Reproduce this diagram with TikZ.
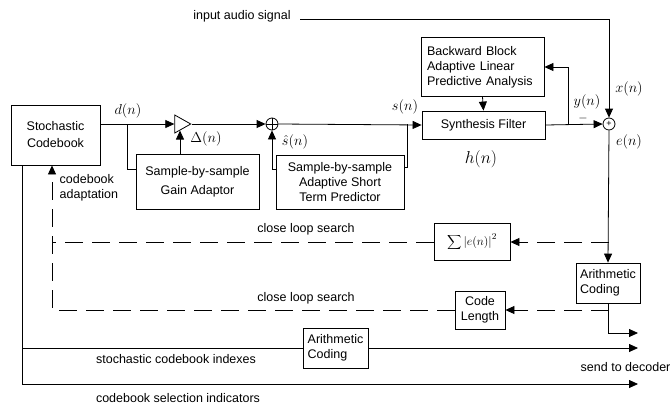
\documentclass[tikz,border=0pt]{standalone}
\usepackage{fontspec}
\setmainfont{Liberation Sans}
\usetikzlibrary{arrows.meta,shapes.geometric}

\begin{document}
\begin{tikzpicture}
[x=1pt,y=-1pt,line width=0.8pt,
font=\fontsize{12.5}{15}\selectfont,
block/.style={draw,inner sep=0pt,align=center},
amp/.style={draw,isosceles triangle,isosceles triangle stretches,
minimum width=18pt,minimum height=16pt,inner sep=0pt},
adder/.style={draw,circle,minimum size=12pt,inner sep=0pt},
arr/.style={-{Triangle[length=9pt,width=8pt]}},
dsh/.style={dash pattern=on 18pt off 9pt},
lbl/.style={font=\fontsize{15}{17}\selectfont}]
\useasboundingbox (0,0) rectangle (672,405);

\node[block,minimum width=89pt,minimum height=60pt] (cb) at (55.5,135) {Stochastic\\[2pt]Codebook};
\node[amp] (gain) at (180,124) {};
\node[adder,path picture={\draw (path picture bounding box.north) -- (path picture bounding box.south)
(path picture bounding box.west) -- (path picture bounding box.east);}] (add1) at (272,124) {};
\node[block,minimum width=123pt,minimum height=55pt] (gainad) at (197.5,181.5) {Sample-by-sample\\[4pt]Gain Adaptor};
\node[block,minimum width=128pt,minimum height=54pt] (pred) at (340,182) {Sample-by-sample\\Adaptive Short\\Term Predictor};
\node[block,minimum width=123pt,minimum height=28pt] (synth) at (483.5,125) {Synthesis Filter};
\node[block,align=left,text width=111pt,minimum width=123pt,minimum height=59pt] (bwd) at (482.5,67) {Backward Block\\Adaptive Linear\\Predictive Analysis};
\node[adder,font=\fontsize{9}{9}\selectfont] (add2) at (609,124) {+};
\node[block,minimum width=76pt,minimum height=37pt] (err) at (472,242) {$\displaystyle\sum\left|e(n)\right|^{2}$};
\node[block,align=left,minimum width=64pt,minimum height=40pt] (arith1) at (608,283) {Arithmetic\\Coding};
\node[block,minimum width=50pt,minimum height=38pt] (codelen) at (480,310) {Code\\Length};
\node[block,align=left,minimum width=65pt,minimum height=40pt] (arith2) at (335.5,348) {Arithmetic\\Coding};

\node (inlabel) at (242,16) {input audio signal};
\node[lbl] (dlbl) at (128,111) {$d(n)$};
\node[lbl] (deltalbl) at (206,139) {$\Delta(n)$};
\node[lbl,inner sep=1pt] (shatlbl) at (295,142) {$\hat{s}(n)$};
\node[lbl] (slbl) at (405,107) {$s(n)$};
\node[font=\fontsize{17}{19}\selectfont] (hlbl) at (481,159) {$h(n)$};
\node[lbl] (ylbl) at (587,102) {$y(n)$};
\node (minus) at (583,118) {$-$};
\node[lbl] (xlbl) at (629,89) {$x(n)$};
\node[lbl] (elbl) at (629,142) {$e(n)$};
\node[align=left,anchor=west] (adaptlbl) at (56,188) {codebook\\adaptation};
\node (search1) at (306,229) {close loop search};
\node (search2) at (306,298) {close loop search};
\node (idxlbl) at (176,359) {stochastic codebook indexes};
\node (sellbl) at (178,398) {codebook selection indicators};
\node[anchor=west] (sendlbl) at (577,367) {send to decoder};

\coordinate (dbr) at (127,124);
\coordinate (sbr) at (407,124);
\coordinate (ybr) at (568,124);
\coordinate (ebr1) at (609,242);
\coordinate (ebr2) at (609,310);
\coordinate (ibr) at (22,348);
\coordinate (out1) at (638,333);
\coordinate (out2) at (638,348);
\coordinate (out3) at (638,384);

\draw[arr] ([xshift=6pt,yshift=-3pt]inlabel.east) -| (add2.north);
\draw[arr] (cb.east |- gain.west) -- (gain.west);
\draw (dbr) |- (gainad.west |- 0,169);
\draw[arr] (gainad.north -| gain.south) -- (gain.south);
\draw[arr] (gain.apex) -- (add1.west);
\draw[arr] (pred.west |- 0,169) -| (add1.south);
\draw[arr] (add1.east) -- (synth.west);
\draw (sbr) |- (pred.east |- 0,167);
\draw[arr] (synth.east) -- (add2.west);
\draw[arr] (ybr) |- (bwd.east);
\draw[arr] (bwd.south) -- (synth.north);
\draw[arr] (add2.south) -- (arith1.north);
\draw[dsh,arr] (ebr1) -- (err.east);
\draw[dsh] (err.west) -- (52,242);
\draw[dsh,arr] (ebr2) -- (codelen.east);
\draw[dsh,arr] (codelen.west) -| (cb.south -| 52,0);
\draw[arr] (arith1.south) |- (out1);
\draw[arr] (cb.south -| ibr) |- (out3);
\draw (ibr) -- (arith2.west);
\draw[arr] (arith2.east) -- (out2);
\end{tikzpicture}
\end{document}
